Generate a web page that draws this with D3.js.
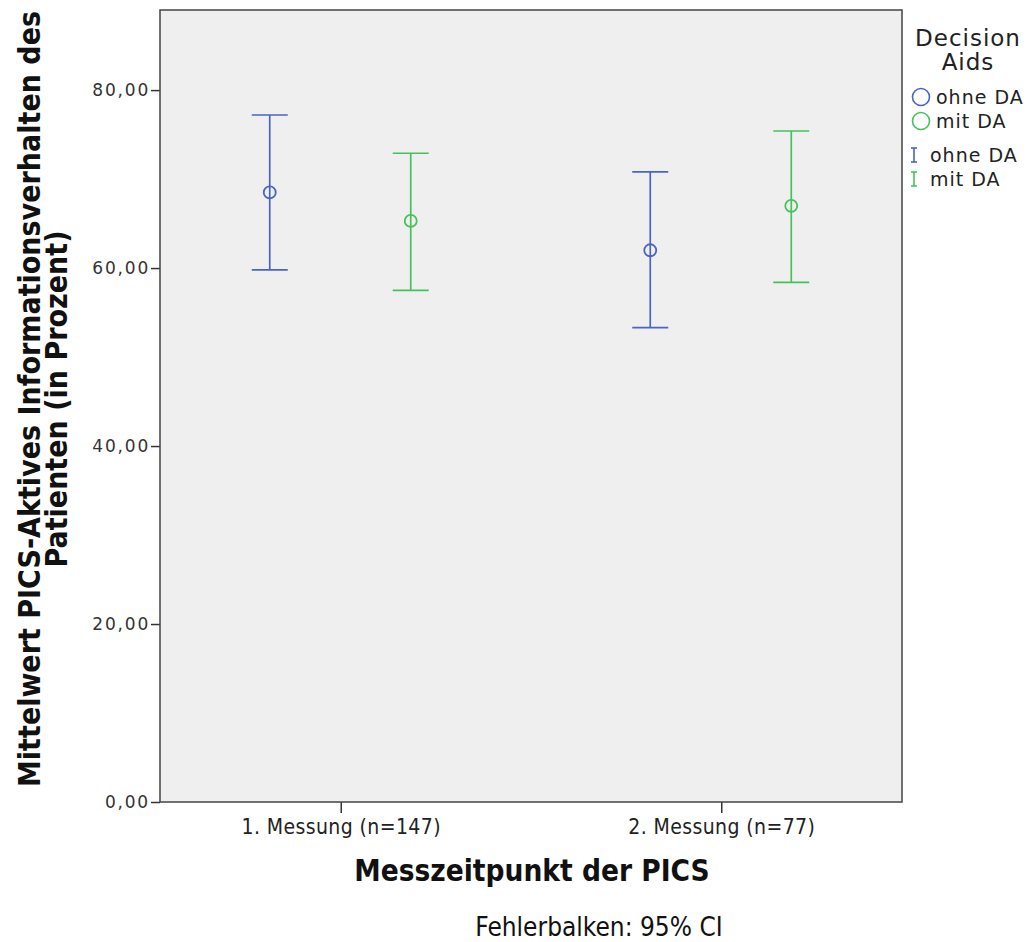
<!DOCTYPE html>
<html>
<head>
<meta charset="utf-8">
<script src="https://cdn.jsdelivr.net/npm/d3@7"></script>
<style>
  body { margin: 0; background: #fff; }
</style>
</head>
<body>
<div id="chart"></div>
<script>
// Messzeitpunkt categories
const categories = ['1. Messung (n=147)', '2. Messung (n=77)']
const groups = ['ohne DA', 'mit DA']
const colors = ['#4a64c3', '#45c25a']
// means and 95% CI per group, one entry per category
const ohneMean = [68.5, 62.0]
const ohneLow = [59.8, 53.3]
const ohneHigh = [77.2, 70.8]
const mitMean = [65.3, 67.0]
const mitLow = [57.5, 58.4]
const mitHigh = [72.9, 75.4]
const yTicks = [0, 20, 40, 60, 80]

const W = 1029
const H = 942
const margin = { top: 10, right: 127, bottom: 140, left: 160 }
const width = W - margin.left - margin.right
const height = H - margin.top - margin.bottom
const condFont = '"Liberation Sans Narrow", "DejaVu Sans Condensed", sans-serif'
const wideFont = '"DejaVu Sans", Verdana, sans-serif'

const svg = d3.select('#chart').append('svg')
  .attr('width', W)
  .attr('height', H)

const g = svg.append('g')
  .attr('transform', 'translate(' + margin.left + ',' + margin.top + ')')

g.append('rect')
  .attr('width', width)
  .attr('height', height)
  .attr('fill', '#efefef')

const x = d3.scalePoint()
  .domain(categories)
  .range([0, width])
  .padding(0.475)

const y = d3.scaleLinear()
  .domain([0, 89])
  .range([height, 0])

const dodge = d3.scalePoint().domain(groups).range([-71, 70])

// axes
const yAxis = g.append('g')
  .call(d3.axisLeft(y).tickValues(yTicks).tickSize(9)
    .tickFormat(d => d3.format('.2f')(d).replace('.', ',')))
yAxis.select('.domain').remove()
yAxis.selectAll('.tick line').attr('stroke', '#333').attr('stroke-width', 1.5)
yAxis.selectAll('.tick text')
  .style('font-family', wideFont)
  .attr('font-size', 17)
  .attr('letter-spacing', 1.8)
  .attr('fill', '#333')
  .attr('x', -10)

const xAxis = g.append('g')
  .attr('transform', 'translate(0,' + height + ')')
  .call(d3.axisBottom(x).tickSize(11))
xAxis.select('.domain').remove()
xAxis.selectAll('.tick line').attr('stroke', '#333').attr('stroke-width', 1.5)
xAxis.selectAll('.tick text')
  .style('font-family', condFont)
  .attr('font-size', 21)
  .attr('letter-spacing', 0.4)
  .attr('fill', '#222')
  .attr('y', 17)
  .attr('dy', '0.71em')

g.append('rect')
  .attr('width', width)
  .attr('height', height)
  .attr('fill', 'none')
  .attr('stroke', '#444')
  .attr('stroke-width', 1.5)

// error bars
const series = [
  { key: groups[0], mean: ohneMean, low: ohneLow, high: ohneHigh, color: colors[0] },
  { key: groups[1], mean: mitMean, low: mitLow, high: mitHigh, color: colors[1] }
]
const capW = 18
series.forEach(s => {
  const pts = categories.map((c, i) => ({ c, mean: s.mean[i], low: s.low[i], high: s.high[i] }))
  const sg = g.append('g').attr('stroke', s.color).attr('stroke-width', 1.7).attr('fill', 'none')
  const cx = d => x(d.c) + dodge(s.key)
  sg.selectAll('.whisk').data(pts).enter().append('line')
    .attr('x1', cx).attr('x2', cx)
    .attr('y1', d => y(d.low)).attr('y2', d => y(d.high))
  sg.selectAll('.capH').data(pts).enter().append('line')
    .attr('x1', d => cx(d) - capW).attr('x2', d => cx(d) + capW)
    .attr('y1', d => y(d.high)).attr('y2', d => y(d.high))
  sg.selectAll('.capL').data(pts).enter().append('line')
    .attr('x1', d => cx(d) - capW).attr('x2', d => cx(d) + capW)
    .attr('y1', d => y(d.low)).attr('y2', d => y(d.low))
  sg.selectAll('circle').data(pts).enter().append('circle')
    .attr('cx', cx).attr('cy', d => y(d.mean)).attr('r', 6)
    .attr('fill', 'none').attr('stroke-width', 1.8)
})

// titles
const yt = svg.append('text')
  .attr('transform', 'translate(45,399) rotate(-90)')
  .attr('text-anchor', 'middle')
  .style('font-family', condFont)
  .attr('font-weight', 'bold')
  .attr('font-size', 30)
  .attr('fill', '#111')
yt.append('tspan').attr('x', 0).attr('dy', -5).text('Mittelwert PICS-Aktives Informationsverhalten des')
yt.append('tspan').attr('x', 0).attr('dy', 27).text('Patienten (in Prozent)')

svg.append('text')
  .attr('x', 532).attr('y', 881)
  .attr('text-anchor', 'middle')
  .style('font-family', condFont)
  .attr('font-weight', 'bold')
  .attr('font-size', 29.5)
  .attr('fill', '#111')
  .text('Messzeitpunkt der PICS')

svg.append('text')
  .attr('x', 599).attr('y', 936)
  .attr('text-anchor', 'middle')
  .style('font-family', condFont)
  .attr('font-size', 26)
  .attr('fill', '#111')
  .text('Fehlerbalken: 95% CI')

// legend
const leg = svg.append('g')
  .style('font-family', wideFont)
  .attr('fill', '#222')
leg.append('text').attr('x', 968).attr('y', 46).attr('text-anchor', 'middle')
  .attr('font-size', 23).attr('letter-spacing', 1)
  .text('Decision')
leg.append('text').attr('x', 968).attr('y', 70).attr('text-anchor', 'middle')
  .attr('font-size', 23).attr('letter-spacing', 1)
  .text('Aids')
groups.forEach((k, i) => {
  const cy = 97 + i * 24
  leg.append('circle').attr('cx', 921).attr('cy', cy).attr('r', 8.5)
    .attr('fill', 'none').attr('stroke', colors[i]).attr('stroke-width', 1.6)
  leg.append('text').attr('x', 936).attr('y', cy + 7)
    .attr('font-size', 19).attr('letter-spacing', 1).text(k)
  const by = 155 + i * 24
  const lg = leg.append('g').attr('stroke', colors[i]).attr('stroke-width', 1.6)
  lg.append('line').attr('x1', 914).attr('x2', 914).attr('y1', by - 7).attr('y2', by + 7)
  lg.append('line').attr('x1', 911).attr('x2', 917).attr('y1', by - 7).attr('y2', by - 7)
  lg.append('line').attr('x1', 911).attr('x2', 917).attr('y1', by + 7).attr('y2', by + 7)
  leg.append('text').attr('x', 930).attr('y', by + 7)
    .attr('font-size', 19).attr('letter-spacing', 1).text(k)
})
</script>
</body>
</html>
